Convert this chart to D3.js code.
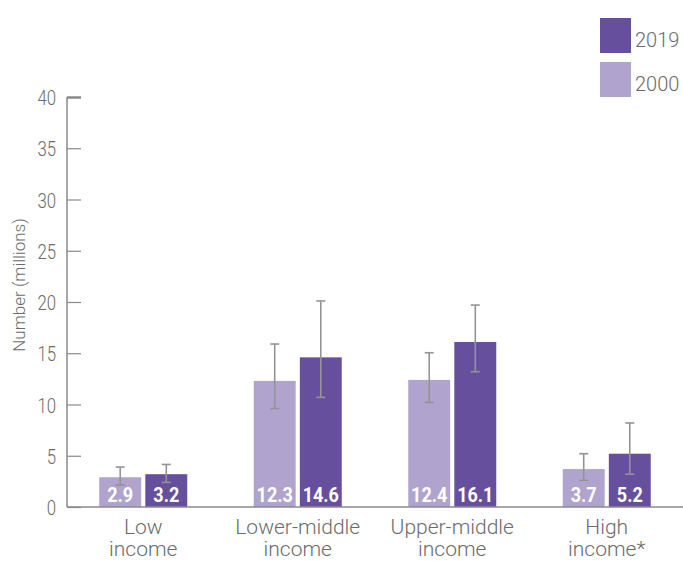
<!DOCTYPE html>
<html>
<head>
<meta charset="utf-8">
<script src="https://cdn.jsdelivr.net/npm/d3@7"></script>
<style>
  body { margin: 0; background: #fff; }
  svg { display: block; }
  .tick text { font-family: Roboto, "Liberation Sans", sans-serif; font-weight: 300; }
</style>
</head>
<body>
<svg class="chart" width="683" height="561"></svg>
<script>
var categories = ["Low|income", "Lower-middle|income", "Upper-middle|income", "High|income*"];
var years = ["2000", "2019"];
var values2000 = [2.9, 12.3, 12.4, 3.7];
var values2019 = [3.2, 14.6, 16.1, 5.2];
var low2000 = [2.15, 9.6, 10.2, 2.6];
var high2000 = [3.9, 15.9, 15.05, 5.2];
var low2019 = [2.4, 10.7, 13.2, 3.2];
var high2019 = [4.15, 20.1, 19.7, 8.2];
var yTicks = [0, 5, 10, 15, 20, 25, 30, 35, 40];

var colors = {"2000": "#b0a4cf", "2019": "#66509d"};
var textGrey = "#6b6b6b";
var squeeze = 0.8;   // fake a condensed face
var labelSqueeze = 0.86;

var rows = [];
for (i = 0; i < categories.length; i++) {
  rows.push({cat: categories[i], year: "2000", v: values2000[i], lo: low2000[i], hi: high2000[i]});
  rows.push({cat: categories[i], year: "2019", v: values2019[i], lo: low2019[i], hi: high2019[i]});
}

var svg = d3.select(".chart");

var x = d3.scaleBand()
    .domain(categories)
    .range([66, 684]);

var xInner = d3.scaleBand()
    .domain(years)
    .range([-44, 44])
    .paddingInner(0.09);

var y = d3.scaleLinear()
    .domain([0, 40])
    .range([507, 97]);

// y axis, ticks pointing inward
var yAxis = d3.axisRight(y).tickValues(yTicks).tickSize(14);
var yg = svg.append("g")
    .attr("transform", "translate(67,0)")
    .call(yAxis);
yg.select(".domain").attr("stroke", "#8a8a8a").attr("stroke-width", 1.5).attr("d", "M0," + y(0) + "V" + y(40));
yg.selectAll(".tick line").attr("stroke", "#8a8a8a").attr("stroke-width", 1.2);
yg.selectAll(".tick").filter(function(d) { return d == 40; }).select("line").attr("stroke-width", 2.5);
yg.selectAll(".tick text")
    .attr("text-anchor", "end")
    .attr("x", -11 / squeeze)
    .attr("dy", "0.36em")
    .attr("transform", "scale(" + squeeze + ",1)")
    .attr("fill", textGrey)
    .style("font-size", "21px");

svg.append("text")
    .attr("transform", "translate(25,285) rotate(-90)")
    .attr("text-anchor", "middle")
    .attr("fill", textGrey)
    .style("font-family", "Roboto, sans-serif")
    .style("font-weight", 300)
    .style("font-size", "17px")
    .text("Number (millions)");

// bars
var bar = svg.selectAll("g.bar")
    .data(rows)
  .enter().append("g")
    .attr("class", "bar")
    .attr("transform", function(d) { return "translate(" + (x(d.cat) + x.bandwidth() / 2) + ",0)"; });

bar.append("rect")
    .attr("x", function(d) { return xInner(d.year); })
    .attr("width", xInner.bandwidth())
    .attr("y", function(d) { return y(d.v); })
    .attr("height", function(d) { return y(0) - y(d.v); })
    .attr("fill", function(d) { return colors[d.year]; });

bar.append("text")
    .attr("transform", function(d) {
      return "translate(" + (xInner(d.year) + xInner.bandwidth() / 2) + "," + (y(0) - 5.5) + ") scale(" + labelSqueeze + ",1)";
    })
    .attr("text-anchor", "middle")
    .attr("fill", "#fff")
    .style("font-family", "Roboto, sans-serif")
    .style("font-weight", "bold")
    .style("font-size", "21px")
    .text(function(d) { return d.v.toFixed(1); });

// error bars
var err = bar.append("g")
    .attr("stroke", "#939393")
    .attr("stroke-width", 1.6);
err.append("line")
    .attr("x1", function(d) { return xInner(d.year) + xInner.bandwidth() / 2; })
    .attr("x2", function(d) { return xInner(d.year) + xInner.bandwidth() / 2; })
    .attr("y1", function(d) { return y(d.hi); })
    .attr("y2", function(d) { return y(d.lo); });
err.selectAll("line.cap")
    .data(function(d) { return [{d: d, v: d.hi}, {d: d, v: d.lo}]; })
  .enter().append("line")
    .attr("class", "cap")
    .attr("x1", function(c) { return xInner(c.d.year) + xInner.bandwidth() / 2 - 4.5; })
    .attr("x2", function(c) { return xInner(c.d.year) + xInner.bandwidth() / 2 + 4.5; })
    .attr("y1", function(c) { return y(c.v); })
    .attr("y2", function(c) { return y(c.v); });

// x axis line
svg.append("line")
    .attr("x1", 67).attr("x2", 683)
    .attr("y1", y(0)).attr("y2", y(0))
    .attr("stroke", "#8a8a8a")
    .attr("stroke-width", 1.5);

// category labels
var catLabel = svg.selectAll("text.cat")
    .data(categories)
  .enter().append("text")
    .attr("class", "cat")
    .attr("text-anchor", "middle")
    .attr("fill", textGrey)
    .style("font-family", "Roboto, sans-serif")
    .style("font-weight", 300)
    .style("font-size", "21px");
catLabel.selectAll("tspan")
    .data(function(d) { return d.split("|").map(function(t) { return {t: t, c: d}; }); })
  .enter().append("tspan")
    .attr("x", function(s) { return x(s.c) + x.bandwidth() / 2; })
    .attr("y", function(s, i) { return 534 + i * 22; })
    .text(function(s) { return s.t; });

// legend
var legend = svg.selectAll("g.legend")
    .data(["2019", "2000"])
  .enter().append("g")
    .attr("class", "legend")
    .attr("transform", function(d, i) { return "translate(600," + (18 + i * 44) + ")"; });
legend.append("rect")
    .attr("width", 31).attr("height", 35)
    .attr("fill", function(d) { return colors[d]; });
legend.append("text")
    .attr("x", 35).attr("y", 29)
    .attr("fill", textGrey)
    .style("font-family", "Roboto, sans-serif")
    .style("font-weight", 300)
    .style("font-size", "20px")
    .text(function(d) { return d; });
</script>
</body>
</html>
